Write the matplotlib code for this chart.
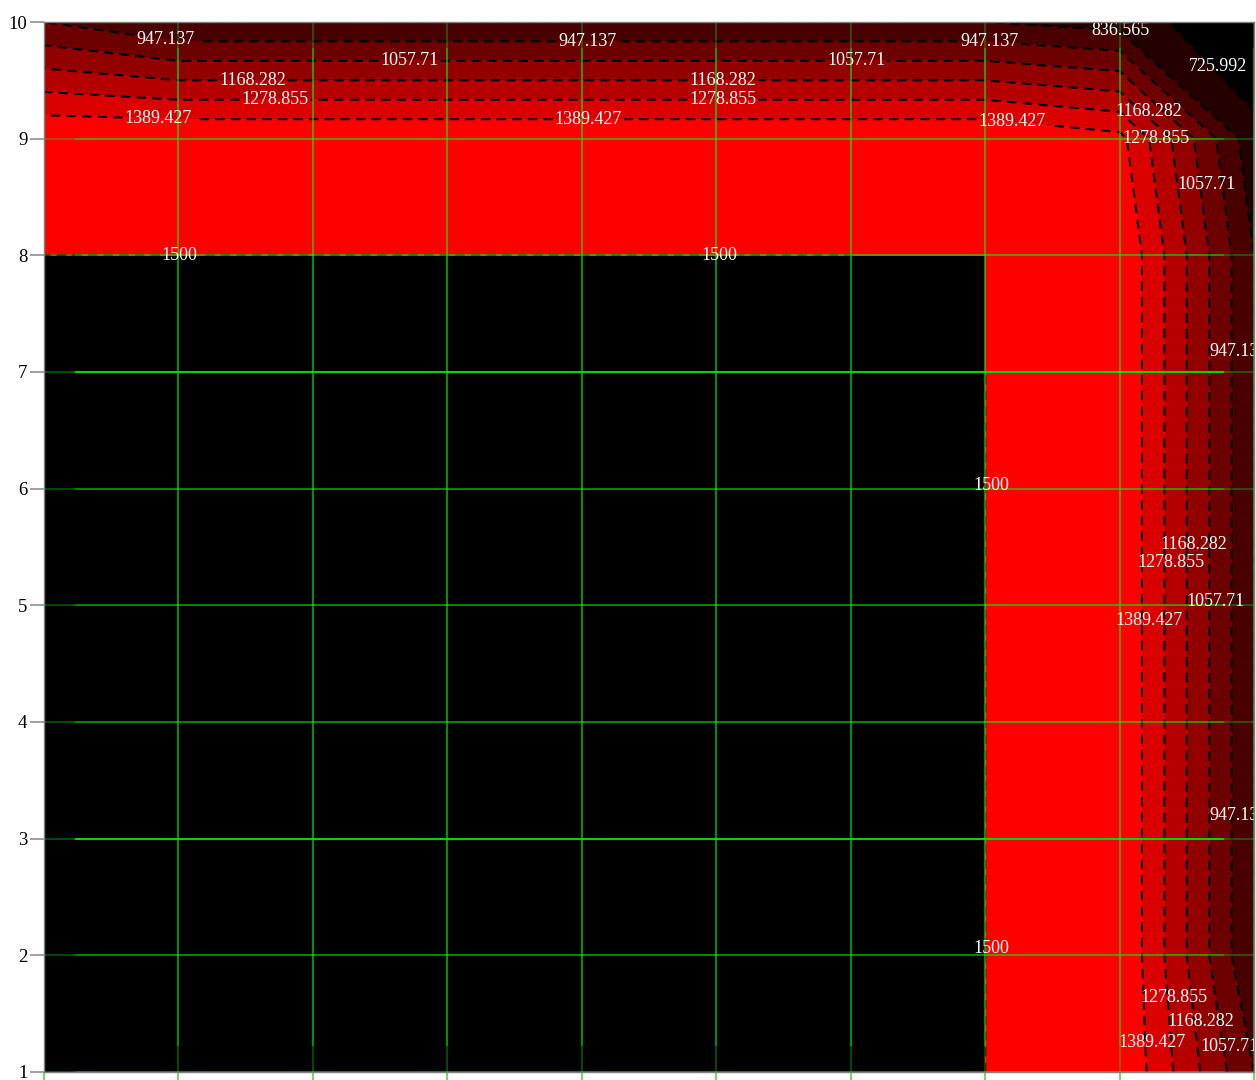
import numpy as np
import matplotlib
matplotlib.use("Agg")
import matplotlib.pyplot as plt
from matplotlib.colors import ListedColormap, BoundaryNorm

plt.rcParams["font.family"] = ["Liberation Serif", "DejaVu Serif"]

# Grid coordinates
x_vals = np.arange(1, 11)
y_vals = np.arange(1, 11)

# Field values, one list per grid row (y = 1 .. 10), columns x = 1 .. 10.
# The inner block holds values above the top level and is left unfilled.
inner = 1600.0
row_y1 = [inner] * 7 + [1500, 1500, 947.137]
row_y2 = [inner] * 7 + [1500, 1500, 836.565]
row_y3 = [inner] * 7 + [1500, 1500, 836.565]
row_y4 = [inner] * 7 + [1500, 1500, 836.565]
row_y5 = [inner] * 7 + [1500, 1500, 836.565]
row_y6 = [inner] * 7 + [1500, 1500, 836.565]
row_y7 = [inner] * 7 + [1500, 1500, 836.565]
row_y8 = [1500] * 9 + [836.565]
row_y9 = [1500] * 8 + [1425, 760]
row_y10 = [947.137] + [836.565] * 7 + [790, 615.42]

levels = [615.42, 725.992, 836.565, 947.137, 1057.71,
          1168.282, 1278.855, 1389.427, 1500]

Z = np.array([row_y1, row_y2, row_y3, row_y4, row_y5,
              row_y6, row_y7, row_y8, row_y9, row_y10])
X, Y = np.meshgrid(x_vals, y_vals)
Z_fill = np.ma.masked_where(Z > levels[-1], Z)

# black -> red bands
n_bands = len(levels) - 1
band_colors = [(i / (n_bands - 1), 0, 0) for i in range(n_bands)]
cmap = ListedColormap(band_colors)
norm = BoundaryNorm(levels, cmap.N)

fig = plt.figure(figsize=(12.56, 10.80), dpi=100)
ax = fig.add_axes([44 / 1256, 8 / 1080, 1210 / 1256, 1050 / 1080])
ax.set_facecolor("black")

ax.contourf(X, Y, Z_fill, levels=levels, cmap=cmap, norm=norm,
            corner_mask=False, zorder=1)

cs = ax.contour(X, Y, Z, levels=levels[1:], colors="black",
                linewidths=1.5, linestyles=[(0, (4.5, 3.0))], zorder=2)


def fmt(v):
    return f"{v:.3f}".rstrip("0").rstrip(".")


# label anchors along the top band (nearly horizontal lines)
top_label_xy = [(1.90, 9.85), (5.04, 9.84), (8.03, 9.84),
                (3.72, 9.67), (7.04, 9.67),
                (2.55, 9.50), (6.05, 9.50),
                (2.72, 9.33), (6.05, 9.33),
                (1.85, 9.19), (5.05, 9.17), (8.20, 9.14),
                (2.01, 8.0), (6.02, 8.0)]
# label anchors along the right band and the corner
side_label_xy = [(8.96, 9.93), (9.68, 9.62), (9.17, 9.24), (9.26, 9.02),
                 (9.64, 8.61), (9.84, 7.18),
                 (8.0, 6.03), (8.0, 2.06),
                 (9.50, 5.52), (9.34, 5.37), (9.68, 5.03), (9.17, 4.87),
                 (9.84, 3.2),
                 (9.40, 1.64), (9.60, 1.44), (9.20, 1.25), (9.80, 1.22)]

label_font = dict(fontsize=13, colors="white", fmt=fmt)
ax.clabel(cs, manual=top_label_xy, inline=True, inline_spacing=2, **label_font)
n_top = len(cs.labelTexts)
ax.clabel(cs, manual=side_label_xy, inline=False, **label_font)
for i, t in enumerate(cs.labelTexts):
    t.set_rotation(0)
    t.set_clip_on(True)
    t.set_clip_path(ax.patch)
    t.set_zorder(5)
    if i >= n_top:
        # side labels sit slightly to the right of their lines
        px, py = t.get_position()
        t.set_position((px + 0.05, py))

# green grid: faint full-span lines plus brighter inner segments
ticks = np.arange(1, 11)
for v in ticks:
    ax.axvline(v, color=(0, 1, 0), lw=1.4, alpha=0.3, zorder=3)
    ax.axhline(v, color=(0, 1, 0), lw=1.4, alpha=0.3, zorder=3)
ax.vlines(ticks, 1.22, 9.78, color=(0, 1, 0), lw=1.4, alpha=0.4, zorder=3)
ax.hlines(ticks, 1.23, 9.78, color=(0, 1, 0), lw=1.4, alpha=0.35, zorder=3)
ax.hlines([3, 7], 1.23, 9.78, color=(0, 0.85, 0), lw=1.4, alpha=1.0, zorder=3)

ax.set_xlim(1, 10)
ax.set_ylim(1, 10)
ax.set_xticks(ticks)
ax.set_yticks(ticks)
ax.tick_params(axis="y", direction="out", length=10, width=1.2,
               color="#909090", labelsize=13.5, pad=2, labelcolor="black")
ax.tick_params(axis="x", direction="out", length=8, width=1.2,
               color=(0.3, 0.85, 0.3), labelsize=13)
for s in ax.spines.values():
    s.set_color("#808080")
    s.set_linewidth(1.0)
    s.set_zorder(6)

fig.savefig("out.png", dpi=100, facecolor="white")
